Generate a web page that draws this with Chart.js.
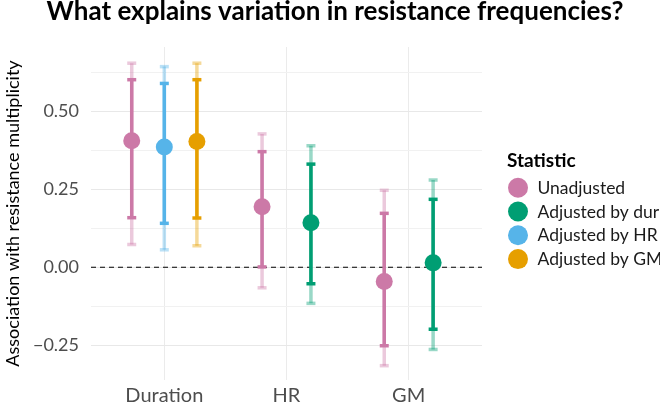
<!DOCTYPE html>
<html>
<head>
<meta charset="utf-8">
<script src="https://cdn.jsdelivr.net/npm/chart.js@4.4.1/dist/chart.umd.min.js"></script>
<style>
  html, body { margin: 0; padding: 0; background: #fff; }
</style>
</head>
<body>
<canvas id="chart" width="660" height="404"></canvas>
<script>
const titleText = 'What explains variation in resistance frequencies?';
const yTitle = 'Association with resistance multiplicity';
const legendTitle = 'Statistic';

const categories = ['Duration', 'HR', 'GM'];
const statistics = ['Unadjusted', 'Adjusted by dur', 'Adjusted by HR', 'Adjusted by GM'];
const colors = ['#CC79A7', '#009E73', '#56B4E9', '#E69F00'];

// one row per statistic, one column per category (null = not estimated)
const estimate = [
  [0.406, 0.194, -0.046],
  [null, 0.143, 0.014],
  [0.386, null, null],
  [0.404, null, null]
];
const innerLo = [
  [0.159, 0.001, -0.252],
  [null, -0.053, -0.199],
  [0.141, null, null],
  [0.158, null, null]
];
const innerHi = [
  [0.602, 0.371, 0.173],
  [null, 0.331, 0.218],
  [0.590, null, null],
  [0.602, null, null]
];
const outerLo = [
  [0.073, -0.066, -0.316],
  [null, -0.116, -0.264],
  [0.056, null, null],
  [0.069, null, null]
];
const outerHi = [
  [0.655, 0.428, 0.247],
  [null, 0.390, 0.280],
  [0.644, null, null],
  [0.655, null, null]
];

const yTicks = [-0.25, 0, 0.25, 0.5];
const yMinor = [-0.125, 0.125, 0.375, 0.625];

const dodgeWidth = 0.8;

function fade(hex, a) {
  const n = parseInt(hex.slice(1), 16);
  return `rgba(${n >> 16}, ${(n >> 8) & 255}, ${n & 255}, ${a})`;
}

const datasets = [{
  data: [{x: 0.4, y: 0}, {x: 3.6, y: 0}],
  showLine: true,
  borderColor: '#000',
  borderWidth: 1.2,
  borderDash: [5, 4],
  pointRadius: 0,
  order: 4
}];

statistics.forEach((stat, s) => {
  const pts = [], inner = [], outer = [];
  categories.forEach((cat, c) => {
    if (estimate[s][c] == null) return;
    const present = statistics.map((_, k) => k).filter(k => estimate[k][c] != null);
    const n = present.length;
    const j = present.indexOf(s);
    const x = c + 1 + (j - (n - 1) / 2) * dodgeWidth / n;
    pts.push({x, y: estimate[s][c]});
    inner.push({x, y: innerLo[s][c]}, {x, y: innerHi[s][c]}, {x, y: null});
    outer.push({x, y: outerLo[s][c]}, {x, y: outerHi[s][c]}, {x, y: null});
  });
  const bar = (data, col, order) => ({
    data,
    showLine: true,
    spanGaps: false,
    borderColor: col,
    borderWidth: 3.5,
    pointStyle: 'line',
    pointRadius: 4.5,
    pointHoverRadius: 4.5,
    pointBorderColor: col,
    pointBorderWidth: 3.5,
    order
  });
  datasets.push(bar(outer, fade(colors[s], 0.4), 3));
  datasets.push(bar(inner, colors[s], 2));
  datasets.push({
    label: stat,
    data: pts,
    pointRadius: 8.5,
    pointHoverRadius: 8.5,
    backgroundColor: colors[s],
    borderWidth: 0,
    order: 1
  });
});

const headerAndKey = {
  id: 'headerAndKey',
  afterDraw(chart) {
    const ctx = chart.ctx;
    ctx.save();
    ctx.fillStyle = '#000';
    ctx.textBaseline = 'alphabetic';
    ctx.textAlign = 'center';
    ctx.font = 'bold 26px Lato';
    ctx.fillText(titleText, 335, 20);

    ctx.textAlign = 'left';
    ctx.font = 'bold 19px Lato';
    ctx.fillText(legendTitle, 507, 166.5);
    ctx.font = '17.5px Lato';
    statistics.forEach((stat, i) => {
      const y = 187.7 + i * 23.8;
      ctx.fillStyle = colors[i];
      ctx.beginPath();
      ctx.arc(518, y, 10, 0, Math.PI * 2);
      ctx.fill();
      ctx.fillStyle = '#1a1a1a';
      ctx.fillText(stat, 537.5, y + 6);
    });
    ctx.restore();
  }
};

new Chart(document.getElementById('chart'), {
  type: 'scatter',
  data: { datasets },
  plugins: [headerAndKey],
  options: {
    responsive: false,
    animation: false,
    devicePixelRatio: 1,
    layout: { padding: { top: 47, right: 178, bottom: 0, left: 0 } },
    plugins: {
      legend: { display: false },
      title: { display: false },
      tooltip: { enabled: false }
    },
    scales: {
      x: {
        type: 'linear',
        min: 0.4,
        max: 3.6,
        afterBuildTicks: scale => { scale.ticks = categories.map((_, i) => ({ value: i + 1 })); },
        afterFit: scale => { scale.height = 24; },
        border: { display: false },
        grid: { color: '#EBEBEB', lineWidth: 1, drawTicks: false },
        ticks: {
          padding: 4,
          color: '#4D4D4D',
          font: { family: 'Lato', size: 20 },
          callback: v => categories[v - 1]
        }
      },
      y: {
        min: -0.362,
        max: 0.707,
        afterBuildTicks: scale => {
          scale.ticks = yTicks.concat(yMinor).sort((a, b) => a - b).map(v => ({ value: v }));
        },
        afterFit: scale => { scale.width = 91; },
        border: { display: false },
        grid: {
          drawTicks: false,
          color: ctx => yTicks.includes(ctx.tick.value) ? '#E8E8E8' : '#F1F1F1',
          lineWidth: 1
        },
        ticks: {
          padding: 12,
          color: '#4D4D4D',
          font: { family: 'Lato', size: 18 },
          callback: v => yTicks.includes(v) ? (v < 0 ? '\u2212' + Math.abs(v).toFixed(2) : v.toFixed(2)) : ''
        },
        title: {
          display: true,
          text: yTitle,
          color: '#000',
          font: { family: 'Lato', size: 18 },
          padding: { top: 2, bottom: 0 }
        }
      }
    }
  }
});
</script>
</body>
</html>
